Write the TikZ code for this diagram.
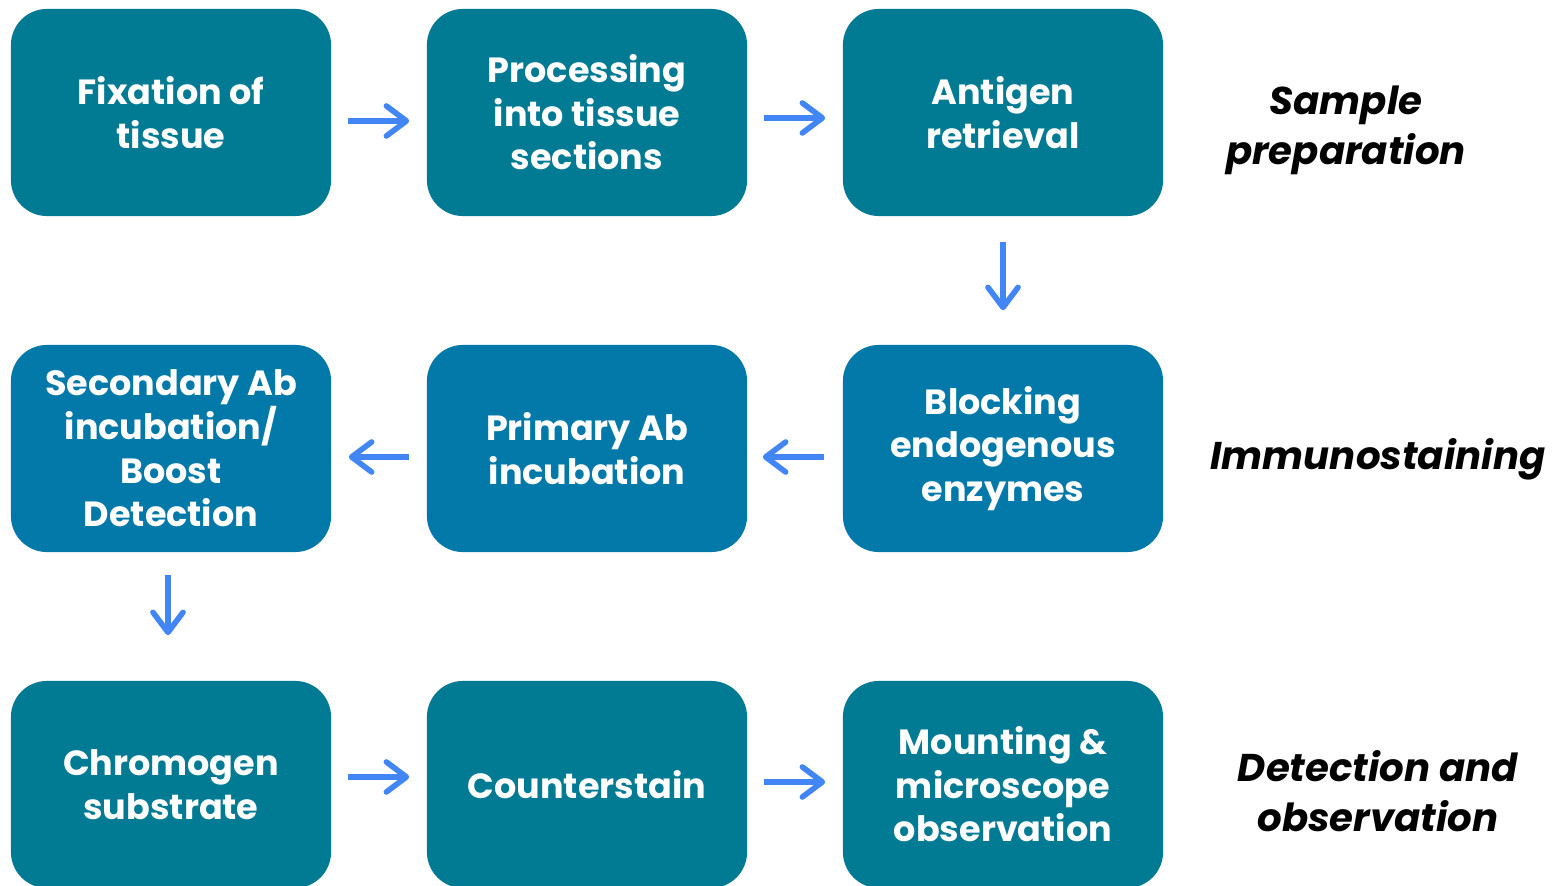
\documentclass[tikz,border=0pt]{standalone}
\usepackage{fontspec}
\setmainfont{Poppins}
\usetikzlibrary{arrows.meta}
\definecolor{stepteal}{HTML}{017A94}
\definecolor{stepblue}{HTML}{0279A8}
\definecolor{flowarrow}{HTML}{4285F4}
\tikzset{
  stepbox/.style={fill=#1, draw=none, rounded corners=0.36cm,
    minimum width=3.2cm, minimum height=2.07cm, inner sep=0pt,
    align=center, text=white, font=\bfseries\fontsize{9.95}{12.4}\selectfont},
  stagelabel/.style={align=center, text=black,
    font=\bfseries\itshape\fontsize{11.0}{14.2}\selectfont},
  flow/.style={draw=flowarrow, line width=1.6pt,
    -{Straight Barb[length=0.2cm, width=0.3cm, round, line width=1.6pt]}}
}
\begin{document}
\begin{tikzpicture}[x=0.01cm, y=-0.01cm]
\useasboundingbox (0,0) rectangle (1560,886);

% row 1: sample preparation
\node[stepbox=stepteal] (fix)  at (171,112.5)  {Fixation of\\tissue};
\node[stepbox=stepteal] (proc) at (587,112.5)  {Processing\\into tissue\\sections};
\node[stepbox=stepteal] (anti) at (1003,112.5) {Antigen\\retrieval};

% row 2: immunostaining
\node[stepbox=stepblue] (sec)  at (171,448.5)  {Secondary Ab\\incubation/\\Boost\\Detection};
\node[stepbox=stepblue] (prim) at (587,448.5)  {Primary Ab\\incubation};
\node[stepbox=stepblue] (blk)  at (1003,448.5) {Blocking\\endogenous\\enzymes};

% row 3: detection and observation
\node[stepbox=stepteal] (chrom) at (171,784.5)  {Chromogen\\substrate};
\node[stepbox=stepteal] (cnt)   at (587,784.5)  {Counterstain};
\node[stepbox=stepteal] (mount) at (1003,784.5) {Mounting \&\\microscope\\observation};

% stage labels
\node[stagelabel] (lab1) at (1346,130) {Sample\\preparation};
\node[stagelabel] (lab2) at (1378,459) {Immunostaining};
\node[stagelabel] (lab3) at (1378,791) {Detection and\\observation};

% connectors
\draw[flow] ([xshift=0.16cm,yshift=-0.085cm]fix.east) -- ([xshift=-0.17cm,yshift=-0.085cm]proc.west);
\draw[flow] ([xshift=0.16cm,yshift=-0.055cm]proc.east) -- ([xshift=-0.17cm,yshift=-0.055cm]anti.west);
\draw[flow] ([yshift=-0.25cm]anti.south) -- ([yshift=0.34cm]blk.north);
\draw[flow] ([xshift=-0.18cm,yshift=-0.085cm]blk.west) -- ([xshift=0.15cm,yshift=-0.085cm]prim.east);
\draw[flow] ([xshift=-0.17cm,yshift=-0.085cm]prim.west) -- ([xshift=0.17cm,yshift=-0.085cm]sec.east);
\draw[flow] ([xshift=-0.03cm,yshift=-0.22cm]sec.south) -- ([xshift=-0.03cm,yshift=0.45cm]chrom.north);
\draw[flow] ([xshift=0.16cm,yshift=0.075cm]chrom.east) -- ([xshift=-0.17cm,yshift=0.075cm]cnt.west);
\draw[flow] ([xshift=0.16cm,yshift=0.025cm]cnt.east) -- ([xshift=-0.17cm,yshift=0.025cm]mount.west);
\end{tikzpicture}
\end{document}
